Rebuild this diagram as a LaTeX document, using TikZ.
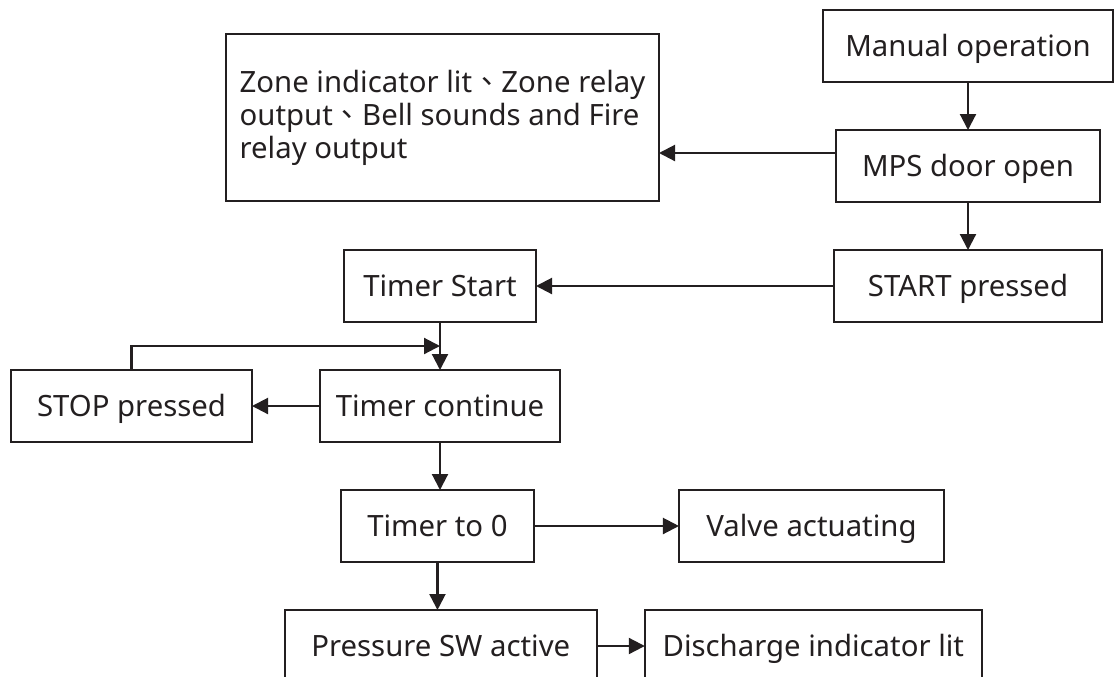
\documentclass[tikz,border=0pt]{standalone}
\usepackage{fontspec}
\setmainfont{Noto Sans}
\newfontfamily\cjk{Noto Sans CJK TC}
\usetikzlibrary{arrows.meta,positioning}
\definecolor{ink}{HTML}{231F20}
\tikzstyle{stage} = [rectangle, draw=ink, line width=1.6pt, minimum height=54pt, inner sep=0pt, outer sep=0pt, text=ink, text height=15.7pt, text depth=0pt]
\tikzstyle{notice} = [rectangle, draw=ink, line width=1.6pt, minimum width=324.75pt, minimum height=125.25pt, inner sep=0pt, outer sep=0pt, align=left, text=ink]
\tikzstyle{arrow} = [draw=ink, line width=1.6pt, -{Triangle[length=12pt,width=12pt]}]

\begin{document}
\begin{tikzpicture}[font=\fontsize{22pt}{24.75pt}\selectfont]
    \useasboundingbox (0,0) rectangle (835.5pt,-507pt);

    \node (manual) [stage, minimum width=217.5pt] at (726pt,-34.5pt) {Manual operation};
    \node (mps) [stage, minimum width=198pt, below=36pt of manual] {MPS door open};
    \node (start) [stage, minimum width=201pt, below=36pt of mps] {START pressed};
    \node (zone) [notice, left=132.75pt of mps, yshift=36.4pt] {Zone indicator lit{\cjk 、}Zone relay\\output{\cjk 、}Bell sounds and Fire\\relay output};

    \node (tstart) [stage, minimum width=144pt, left=223.5pt of start] {Timer Start};
    \node (tcont) [stage, minimum width=180pt, below=36pt of tstart] {Timer continue};
    \node (stop) [stage, minimum width=180.75pt, left=51pt of tcont] {STOP pressed};
    \node (tzero) [stage, minimum width=144.75pt, below=36pt of tcont, xshift=-1.9pt] {Timer to 0};
    \node (valve) [stage, minimum width=198.75pt, right=108.75pt of tzero] {Valve actuating};
    \node (press) [stage, minimum width=234pt, below=36pt of tzero, xshift=2.5pt] {Pressure SW active};
    \node (disch) [stage, minimum width=252.75pt, right=36pt of press] {Discharge indicator lit};

    \coordinate (side) at ([yshift=9.75pt]mps.west);
    \coordinate (merge) at ([yshift=-18pt]tstart.south);

    \draw [arrow] (manual) -- (mps);
    \draw [arrow] (side) -- (side -| zone.east);
    \draw [arrow] (mps) -- (start);
    \draw [arrow] (start) -- (tstart);
    \draw [arrow] (tstart) -- (tcont);
    \draw [arrow] (tcont) -- (stop);
    \draw [arrow] (stop.north) |- (merge);
    \draw [arrow] (tcont.south) -- (tcont.south |- tzero.north);
    \draw [arrow] (tzero) -- (valve);
    \draw [arrow] (tzero.south) -- (tzero.south |- press.north);
    \draw [arrow] (press) -- (disch);
\end{tikzpicture}
\end{document}
